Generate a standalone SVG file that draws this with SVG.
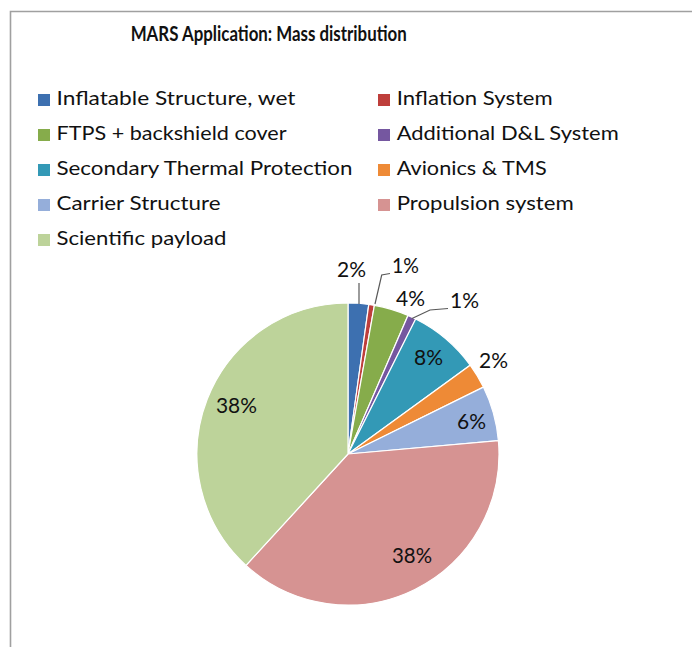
<svg xmlns="http://www.w3.org/2000/svg" width="692" height="647" viewBox="0 0 692 647">
<style>
text{font-family:Lato,"Liberation Sans",sans-serif;fill:#111111}
.title{font-size:21px;font-weight:bold}
.leg{font-size:20px}
.lbl{font-size:21px}
.slice{stroke:#ffffff;stroke-width:1.2}
.lead{fill:none;stroke:#595959;stroke-width:1.2}
</style>
<rect x="0" y="0" width="692" height="647" fill="#ffffff"/>
<g id="frame"><path d="M10.5,647 V11.5 H692" fill="none" stroke="#a0a0a0" stroke-width="1.6"/></g>
<g id="title"><text class="title" x="268.7" y="41" text-anchor="middle" textLength="276" lengthAdjust="spacingAndGlyphs">MARS Application: Mass distribution</text></g>
<g id="legend">
<g id="leg-inflatable"><rect x="38" y="94" width="12" height="12" fill="#3D70B0"/><text class="leg" x="56.5" y="105" textLength="239" lengthAdjust="spacingAndGlyphs">Inflatable Structure, wet</text></g>
<g id="leg-ftps"><rect x="38" y="129" width="12" height="12" fill="#86AC4B"/><text class="leg" x="56.5" y="140" textLength="230" lengthAdjust="spacingAndGlyphs">FTPS + backshield cover</text></g>
<g id="leg-secondary"><rect x="38" y="164" width="12" height="12" fill="#3399B6"/><text class="leg" x="56.5" y="175" textLength="296" lengthAdjust="spacingAndGlyphs">Secondary Thermal Protection</text></g>
<g id="leg-carrier"><rect x="38" y="199" width="12" height="12" fill="#95AEDA"/><text class="leg" x="56.5" y="210" textLength="164" lengthAdjust="spacingAndGlyphs">Carrier Structure</text></g>
<g id="leg-scientific"><rect x="38" y="234" width="12" height="12" fill="#BDD39A"/><text class="leg" x="56.5" y="245" textLength="170" lengthAdjust="spacingAndGlyphs">Scientific payload</text></g>
<g id="leg-inflation"><rect x="378" y="94" width="12" height="12" fill="#BE3E3B"/><text class="leg" x="396.7" y="105" textLength="156" lengthAdjust="spacingAndGlyphs">Inflation System</text></g>
<g id="leg-dl"><rect x="378" y="129" width="12" height="12" fill="#7557A0"/><text class="leg" x="396.7" y="140" textLength="222" lengthAdjust="spacingAndGlyphs">Additional D&amp;L System</text></g>
<g id="leg-avionics"><rect x="378" y="164" width="12" height="12" fill="#EE8A36"/><text class="leg" x="396.7" y="175" textLength="150" lengthAdjust="spacingAndGlyphs">Avionics &amp; TMS</text></g>
<g id="leg-propulsion"><rect x="378" y="199" width="12" height="12" fill="#D69392"/><text class="leg" x="396.7" y="210" textLength="177" lengthAdjust="spacingAndGlyphs">Propulsion system</text></g>
</g>
<g id="pie">
<path id="s-inflatable" class="slice" fill="#3D70B0" d="M348,454 L348,303 A151,151 0 0 1 368.8,304.4 Z"/>
<path id="s-inflation" class="slice" fill="#BE3E3B" d="M348,454 L368.8,304.4 A151,151 0 0 1 374.4,305.3 Z"/>
<path id="s-ftps" class="slice" fill="#86AC4B" d="M348,454 L374.4,305.3 A151,151 0 0 1 408.0,315.4 Z"/>
<path id="s-dl" class="slice" fill="#7557A0" d="M348,454 L408.0,315.4 A151,151 0 0 1 415.7,319.0 Z"/>
<path id="s-secondary" class="slice" fill="#3399B6" d="M348,454 L415.7,319.0 A151,151 0 0 1 470.2,365.2 Z"/>
<path id="s-avionics" class="slice" fill="#EE8A36" d="M348,454 L470.2,365.2 A151,151 0 0 1 483.4,387.1 Z"/>
<path id="s-carrier" class="slice" fill="#95AEDA" d="M348,454 L483.4,387.1 A151,151 0 0 1 498.4,440.7 Z"/>
<path id="s-propulsion" class="slice" fill="#D69392" d="M348,454 L498.4,440.7 A151,151 0 0 1 246.0,565.4 Z"/>
<path id="s-scientific" class="slice" fill="#BDD39A" d="M348,454 L246.0,565.4 A151,151 0 0 1 348,303 Z"/>
</g>
<g id="connectors">
<path class="lead" d="M359,283 V304"/>
<path class="lead" d="M375,304 L381.7,275 L390,273.5"/>
<path class="lead" d="M412,318.5 L430,310 L448,308.5"/>
</g>
<g id="labels">
<text class="lbl" x="337" y="277" textLength="29" lengthAdjust="spacingAndGlyphs">2%</text>
<text class="lbl" x="392" y="273" textLength="27" lengthAdjust="spacingAndGlyphs">1%</text>
<text class="lbl" x="396" y="306" textLength="29" lengthAdjust="spacingAndGlyphs">4%</text>
<text class="lbl" x="450" y="308" textLength="29" lengthAdjust="spacingAndGlyphs">1%</text>
<text class="lbl" x="414" y="365" textLength="29" lengthAdjust="spacingAndGlyphs">8%</text>
<text class="lbl" x="479" y="368" textLength="29" lengthAdjust="spacingAndGlyphs">2%</text>
<text class="lbl" x="457" y="429" textLength="29" lengthAdjust="spacingAndGlyphs">6%</text>
<text class="lbl" x="216" y="413" textLength="41" lengthAdjust="spacingAndGlyphs">38%</text>
<text class="lbl" x="392" y="563" textLength="40" lengthAdjust="spacingAndGlyphs">38%</text>
</g>
</svg>
